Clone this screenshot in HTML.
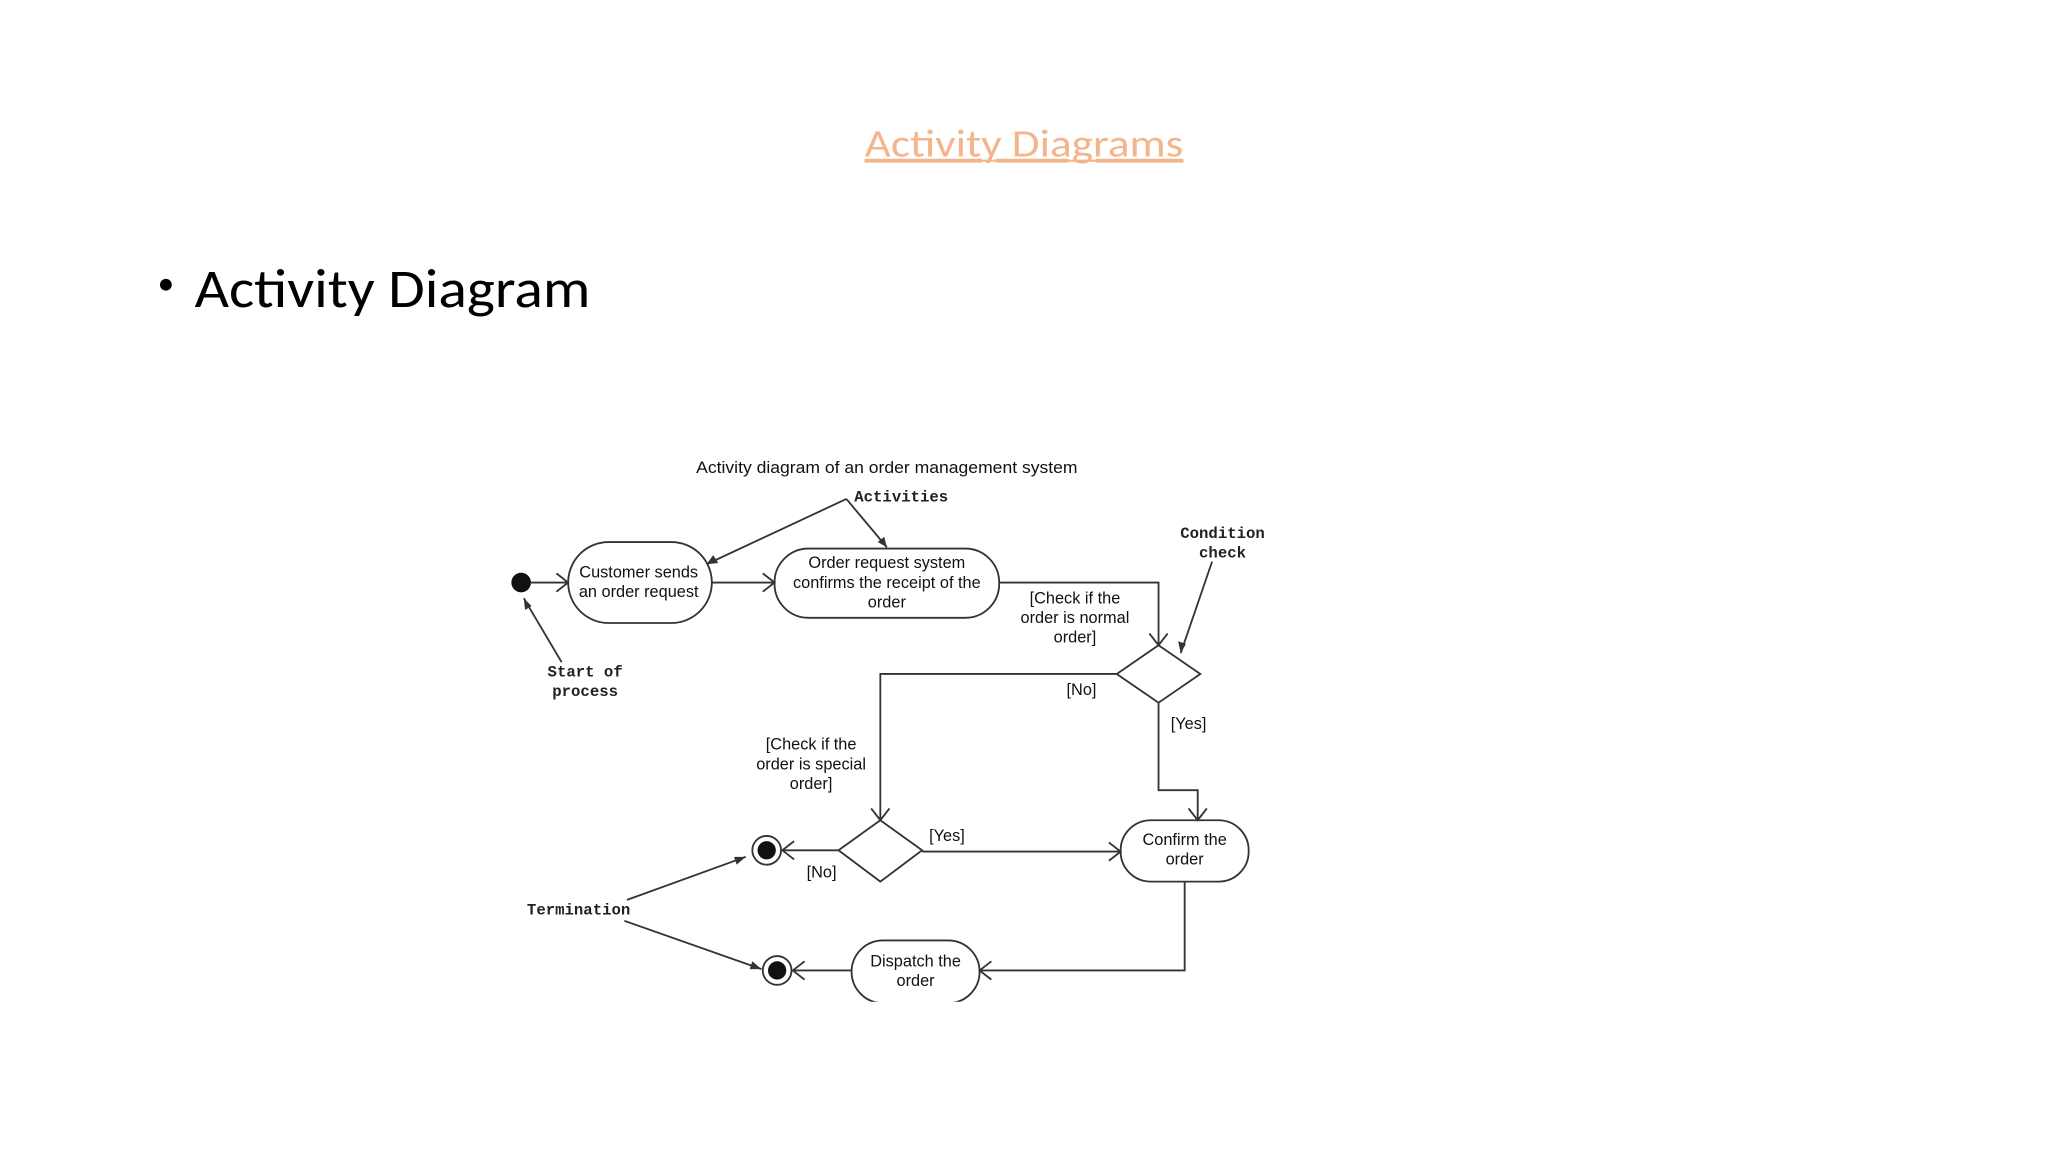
<!DOCTYPE html>
<html><head><meta charset="utf-8"><style>
html,body{margin:0;padding:0;background:#fff;}
svg{display:block;}
.s{font-family:"Liberation Sans",Arial,sans-serif;font-size:12.5px;fill:#111;text-anchor:middle;}
.m{font-family:"Liberation Mono",monospace;font-size:12px;font-weight:bold;fill:#222;text-anchor:middle;}
.l{stroke:#333;stroke-width:1.4;fill:none;}
</style></head><body>
<svg width="2048" height="1152" viewBox="0 0 1568 882" xmlns="http://www.w3.org/2000/svg">
<rect width="1568" height="882" fill="#fff"/>
<text x="784" y="120" text-anchor="middle" font-family="Carlito,'Liberation Sans',sans-serif" font-size="30" fill="#f4b48c" text-decoration="underline" textLength="244" lengthAdjust="spacingAndGlyphs">Activity Diagrams</text>
<line x1="662" y1="123" x2="906" y2="123" stroke="#f4b48c" stroke-width="1.6"/>
<circle cx="127" cy="218" r="4.5" fill="#000"/>
<text x="149" y="235" font-family="Carlito,'Liberation Sans',sans-serif" font-size="42" fill="#000" textLength="303" lengthAdjust="spacingAndGlyphs">Activity Diagram</text>

<text x="679" y="362" class="s" textLength="292" lengthAdjust="spacingAndGlyphs">Activity diagram of an order management system</text>
<text x="690" y="384" class="m">Activities</text>
<path class="l" d="M648 382 L541 432 M648 382 L679 419"/>
<path d="M541 432 l9 -1 l-4 -6 z M679 419 l-2 -8 l-5 4 z" fill="#333"/>

<circle cx="399" cy="446" r="7.5" fill="#111"/>
<text x="448" y="518" class="m">Start of</text>
<text x="448" y="533" class="m">process</text>
<path class="l" d="M430 507 L401 458"/>
<path d="M401 458 l1 9 l5 -3 z" fill="#333"/>

<rect x="435" y="415" width="110" height="62" rx="31" class="l"/>
<text x="489" y="442" class="s">Customer sends</text>
<text x="489" y="457" class="s">an order request</text>
<path class="l" d="M406 446 H435 M426 439 L435 446 L426 453"/>
<path class="l" d="M545 446 H593 M584 439 L593 446 L584 453"/>

<rect x="593" y="420" width="172" height="53" rx="26" class="l"/>
<text x="679" y="435" class="s">Order request system</text>
<text x="679" y="450" class="s">confirms the receipt of the</text>
<text x="679" y="465" class="s">order</text>

<path class="l" d="M765 446 H887 V494 M880 485 L887 494 L894 485"/>
<text x="823" y="462" class="s">[Check if the</text>
<text x="823" y="477" class="s">order is normal</text>
<text x="823" y="492" class="s">order]</text>
<polygon points="887,494 919,516 887,538 855,516" class="l"/>
<text x="936" y="412" class="m">Condition</text>
<text x="936" y="427" class="m">check</text>
<path class="l" d="M928 430 L904 500"/>
<path d="M904 500 l-2 -9 l6 2 z" fill="#333"/>

<path class="l" d="M855 516 H674 V628 M667 619 L674 628 L681 619"/>
<text x="828" y="532" class="s">[No]</text>
<text x="910" y="558" class="s">[Yes]</text>
<path class="l" d="M887 538 V605 H917 V628 M910 619 L917 628 L924 619"/>

<text x="621" y="574" class="s">[Check if the</text>
<text x="621" y="589" class="s">order is special</text>
<text x="621" y="604" class="s">order]</text>
<polygon points="674,628 706,651 674,675 642,651" class="l"/>

<rect x="858" y="628" width="98" height="47" rx="23" class="l"/>
<text x="907" y="647" class="s">Confirm the</text>
<text x="907" y="662" class="s">order</text>
<path class="l" d="M706 652 H858 M849 645 L858 652 L849 659"/>
<text x="725" y="644" class="s">[Yes]</text>

<circle cx="587" cy="651" r="11" class="l"/>
<circle cx="587" cy="651" r="7" fill="#111"/>
<path class="l" d="M642 651 H599 M608 644 L599 651 L608 658"/>
<text x="629" y="672" class="s">[No]</text>

<text x="443" y="700" class="m">Termination</text>
<path class="l" d="M480 689 L571 656 M478 705 L583 742"/>
<path d="M571 656 l-9 0 l2 6 z M583 742 l-7 -6 l-2 6 z" fill="#333"/>

<path class="l" d="M907 675 V743 H750 M759 736 L750 743 L759 750"/>
<rect x="652" y="720" width="98" height="48" rx="24" class="l"/>
<rect x="640" y="767" width="120" height="10" fill="#fff"/>
<text x="701" y="740" class="s">Dispatch the</text>
<text x="701" y="755" class="s">order</text>
<path class="l" d="M652 743 H607 M616 736 L607 743 L616 750"/>
<circle cx="595" cy="743" r="11" class="l"/>
<circle cx="595" cy="743" r="7" fill="#111"/>
</svg>
</body></html>
